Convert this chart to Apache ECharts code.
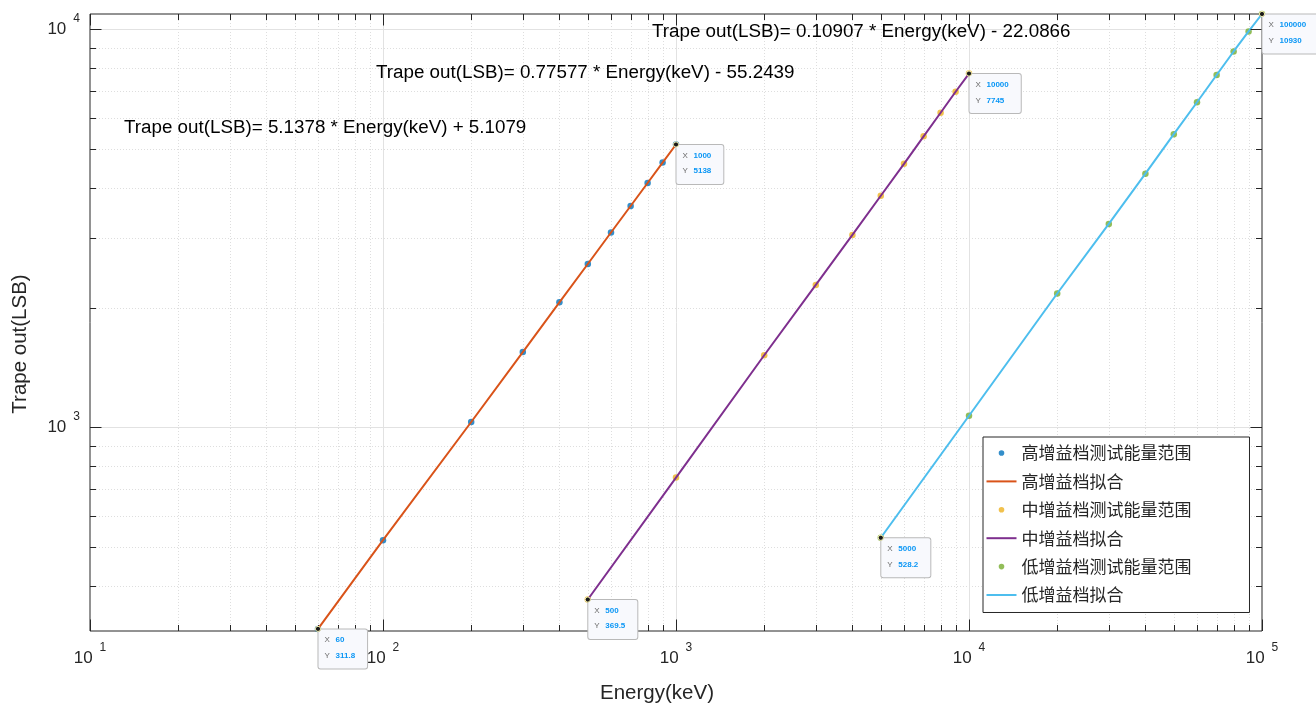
<!DOCTYPE html>
<html><head><meta charset="utf-8">
<script src="https://cdn.jsdelivr.net/npm/echarts@6/dist/echarts.min.js"></script>
<style>html,body{margin:0;padding:0;background:#fff}#c{width:1316px;height:706px}</style>
</head><body><div id="c"></div>
<script>
// ---------- data ----------
const highX = [60, 100, 200, 300, 400, 500, 600, 700, 800, 900, 1000];
const highY = [311.8, 521, 1032, 1546, 2062, 2574, 3088, 3600, 4112, 4628, 5138];
const midX = [500, 1000, 2000, 3000, 4000, 5000, 6000, 7000, 8000, 9000, 10000];
const midY = [369.5, 748, 1518, 2280, 3045, 3820, 4595, 5385, 6175, 6972, 7745];
const lowX = [5000, 10000, 20000, 30000, 40000, 50000, 60000, 70000, 80000, 90000, 100000];
const lowY = [528.2, 1070, 2170, 3245, 4340, 5455, 6560, 7680, 8800, 9880, 10930];
const seriesNames = ['高增益档测试能量范围', '高增益档拟合', '中增益档测试能量范围', '中增益档拟合', '低增益档测试能量范围', '低增益档拟合'];
const tipX = [60, 1000, 500, 10000, 5000, 100000];
const tipY = [311.8, 5138, 369.5, 7745, 528.2, 10930];
const fitTexts = [
  'Trape out(LSB)= 5.1378 * Energy(keV) + 5.1079',
  'Trape out(LSB)= 0.77577 * Energy(keV) - 55.2439',
  'Trape out(LSB)= 0.10907 * Energy(keV) - 22.0866'
];
const xRange = [10, 100000];
const yRange = [308, 10930];
const xTitle = 'Energy(keV)';
const yTitle = 'Trape out(LSB)';

// ---------- style ----------
const FONT = "'Liberation Sans', Arial, Helvetica, 'Noto Sans CJK SC', sans-serif";
const AX = '#262626';
const C = { blue: '#0072BD', orange: '#D95319', yellow: '#EDB120', purple: '#7E2F8E', green: '#77AC30', cyan: '#4DBEEE' };
const DOT = 'path://M0,0L0,0M30,14L30,14M12.2,7a2.8,2.8 0 1,0 5.6,0a2.8,2.8 0 1,0 -5.6,0Z';
const BAR = 'path://M0,0L0,0M30,14L30,14M0,6L30,6L30,8L0,8Z';

function pairs(xs, ys) { return xs.map((x, i) => [x, ys[i]]); }
function expLabel(v) {
  const e = Math.log10(v); const r = Math.round(e);
  if (Math.abs(e - r) > 1e-6) return '';
  return '{m|10}{e|' + r + '}';
}
const labelRich = {
  m: { fontSize: 17, color: AX, fontFamily: FONT, padding: [8, 0, 8, 0] },
  e: { fontSize: 12, color: AX, fontFamily: FONT, verticalAlign: 'top', padding: [0, 0, 0, 7] }
};

const chart = echarts.init(document.getElementById('c'), null, { renderer: 'canvas' });
const scatterStyle = (color) => ({ type: 'scatter', symbolSize: 6.5, itemStyle: { color: color }, z: 2 });
const lineStyle = (color) => ({ type: 'line', symbol: 'none', showSymbol: false, lineStyle: { color: color, width: 2 }, itemStyle: { color: color }, z: 3 });

const option = {
  animation: false,
  backgroundColor: '#fff',
  textStyle: { fontFamily: FONT },
  grid: { left: 90, right: 54, top: 14, bottom: 75, show: true, borderColor: AX, borderWidth: 1, backgroundColor: 'transparent' },
  xAxis: {
    type: 'log', logBase: 10, min: xRange[0], max: xRange[1],
    axisLine: { show: false }, axisTick: { show: false }, splitLine: { show: false }, minorTick: { show: false },
    axisLabel: { formatter: expLabel, rich: labelRich, margin: 11, showMinLabel: true, showMaxLabel: true, hideOverlap: false }
  },
  yAxis: {
    type: 'log', logBase: 10, min: yRange[0], max: yRange[1],
    axisLine: { show: false }, axisTick: { show: false }, splitLine: { show: false }, minorTick: { show: false },
    axisLabel: { formatter: expLabel, rich: labelRich, margin: 10, hideOverlap: false }
  },
  legend: {
    orient: 'vertical', left: 983, top: 437,
    itemWidth: 30, itemHeight: 14, itemGap: 11.4,
    padding: [7.5, 58, 9, 3.5],
    borderColor: AX, borderWidth: 1, backgroundColor: '#fff', borderRadius: 0,
    textStyle: { fontSize: 17, color: AX, fontFamily: "'Noto Sans CJK SC', sans-serif" },
    data: [
      { name: seriesNames[0], icon: DOT }, { name: seriesNames[1], icon: BAR },
      { name: seriesNames[2], icon: DOT }, { name: seriesNames[3], icon: BAR },
      { name: seriesNames[4], icon: DOT }, { name: seriesNames[5], icon: BAR }
    ]
  },
  series: [
    Object.assign(scatterStyle(C.blue), { name: seriesNames[0], data: pairs(highX, highY) }),
    Object.assign(lineStyle(C.orange), { name: seriesNames[1], data: pairs(highX, highY) }),
    Object.assign(scatterStyle(C.yellow), { name: seriesNames[2], data: pairs(midX, midY) }),
    Object.assign(lineStyle(C.purple), { name: seriesNames[3], data: pairs(midX, midY) }),
    Object.assign(scatterStyle(C.green), { name: seriesNames[4], data: pairs(lowX, lowY) }),
    Object.assign(lineStyle(C.cyan), { name: seriesNames[5], data: pairs(lowX, lowY) })
  ]
};
chart.setOption(option);

// ---------- grid lines, ticks, titles, annotations, data tips ----------
const px = (x, y) => chart.convertToPixel({ xAxisIndex: 0, yAxisIndex: 0 }, [x, y]);
const p0 = px(xRange[0], yRange[0]);
const p1 = px(xRange[1], yRange[1]);
const L = p0[0], R = p1[0], B = p0[1], T = p1[1];
const crisp = v => Math.round(v) + 0.5;
const els = [];
function logTicks(lo, hi) {
  const major = [], minor = [];
  for (let d = Math.floor(Math.log10(lo)); d <= Math.ceil(Math.log10(hi)); d++) {
    for (let k = 1; k <= 9; k++) {
      const v = k * Math.pow(10, d);
      if (v < lo * 0.9999 || v > hi * 1.0001) continue;
      (k === 1 ? major : minor).push(v);
    }
  }
  return { major, minor };
}
const xt = logTicks(xRange[0], xRange[1]);
const yt = logTicks(yRange[0], yRange[1]);
const minorGrid = { stroke: '#dedede', lineWidth: 1, lineDash: [1, 2] };
const majorGrid = { stroke: '#e2e2e2', lineWidth: 1 };
const tickSt = { stroke: AX, lineWidth: 1 };
const MAJ = 11.5, MIN = 6;
function line(x1, y1, x2, y2, style, z) { els.push({ type: 'line', silent: true, z: z, shape: { x1, y1, x2, y2 }, style }); }

xt.minor.forEach(v => { const x = crisp(px(v, yRange[0])[0]); line(x, T, x, B, minorGrid, 0); });
yt.minor.forEach(v => { const y = crisp(px(xRange[0], v)[1]); line(L, y, R, y, minorGrid, 0); });
xt.major.forEach(v => { const x = crisp(px(v, yRange[0])[0]); if (x > L + 1 && x < R - 1) line(x, T, x, B, majorGrid, 1); });
yt.major.forEach(v => { const y = crisp(px(xRange[0], v)[1]); if (y > T + 1 && y < B - 1) line(L, y, R, y, majorGrid, 1); });
xt.major.concat(xt.minor).forEach(v => {
  const x = crisp(px(v, yRange[0])[0]); const len = xt.major.indexOf(v) >= 0 ? MAJ : MIN;
  line(x, B, x, B - len, tickSt, 5); line(x, T, x, T + len, tickSt, 5);
});
yt.major.concat(yt.minor).forEach(v => {
  const y = crisp(px(xRange[0], v)[1]); const len = yt.major.indexOf(v) >= 0 ? MAJ : MIN;
  line(L, y, L + len, y, tickSt, 5); line(R, y, R - len, y, tickSt, 5);
});

// axis titles
els.push({ type: 'text', silent: true, z: 20, x: 657, y: 693,
  style: { text: xTitle, fontSize: 20.5, fontFamily: FONT, fill: AX, align: 'center', verticalAlign: 'middle' } });
els.push({ type: 'text', silent: true, z: 20, x: 20, y: 344, rotation: Math.PI / 2,
  style: { text: yTitle, fontSize: 20.5, fontFamily: FONT, fill: AX, align: 'center', verticalAlign: 'middle' } });

// fit equation annotations
const annPos = [[124, 128], [376, 73], [652, 32]];
fitTexts.forEach((t, i) => {
  els.push({ type: 'text', silent: true, z: 20, x: annPos[i][0], y: annPos[i][1],
    style: { text: t, fontSize: 18.8, fontFamily: FONT, fill: '#000', verticalAlign: 'middle', align: 'left' } });
});

// data tips
tipX.forEach((x, i) => {
  const p = px(x, tipY[i]);
  els.push({ type: 'text', silent: true, z: 30, x: p[0] + 0.5, y: p[1] + 0.5,
    style: {
      text: '{k|X}{v|' + x + '}\n{k|Y}{v|' + tipY[i] + '}',
      rich: {
        k: { fontSize: 8, fontFamily: FONT, fill: '#6a6a6a', width: 11, lineHeight: 15.5 },
        v: { fontSize: 8, fontFamily: FONT, fontWeight: 'bold', fill: '#0a96f5', lineHeight: 15.5 }
      },
      backgroundColor: '#f8f9fd', borderColor: '#b9b9b9', borderWidth: 1, borderRadius: 2,
      padding: [3, 12, 5, 6], align: 'left', verticalAlign: 'top'
    } });
  els.push({ type: 'circle', silent: true, z: 31, shape: { cx: p[0], cy: p[1], r: 2.6 },
    style: { fill: '#1a1a1a', stroke: '#f3efb0', lineWidth: 1 } });
});

chart.setOption({ graphic: { elements: els } });
</script>
</body></html>
